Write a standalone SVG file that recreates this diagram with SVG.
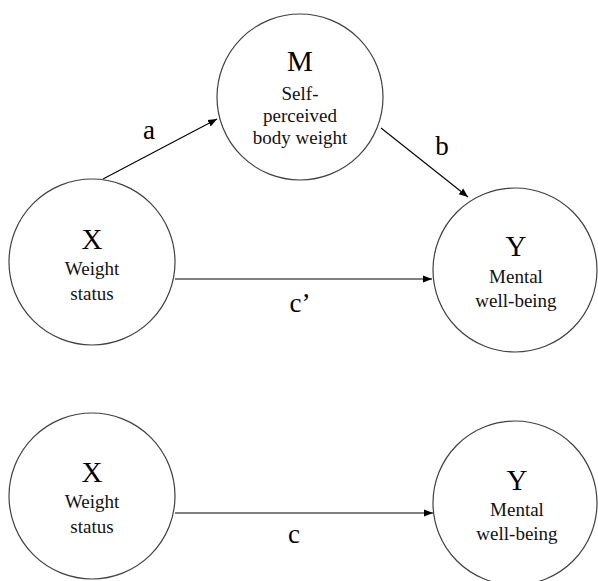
<svg xmlns="http://www.w3.org/2000/svg" width="598" height="581" viewBox="0 0 598 581">
<style>
.node{fill:#fff;stroke:#404040;stroke-width:1.2}
text{font-family:'Liberation Serif','DejaVu Serif',serif;text-anchor:middle;fill:#000}
.big{font-size:29px}
.sub{font-size:19px;fill:#111}
.lab{font-size:27px}
.edge{stroke:#000;stroke-width:1.1;fill:none;marker-end:url(#ah)}
</style>
<defs>
<marker id="ah" viewBox="0 0 10 10" refX="10" refY="5" markerWidth="9" markerHeight="9" markerUnits="userSpaceOnUse" orient="auto">
<path d="M0,1 L10,5 L0,9 z" fill="#000"/>
</marker>
</defs>
<rect width="598" height="581" fill="#fff"/>
<g id="connectors">
<line class="edge" x1="103" y1="179" x2="217" y2="119"/>
<line class="edge" x1="381" y1="128" x2="468" y2="197"/>
<line class="edge" x1="175" y1="279" x2="432" y2="279"/>
<line class="edge" x1="175" y1="513" x2="433" y2="513"/>
<text class="lab" x="149" y="139">a</text>
<text class="lab" x="442" y="155">b</text>
<text class="lab" x="300" y="312">c’</text>
<text class="lab" x="294" y="543">c</text>
</g>
<g id="nodeM">
<circle class="node" cx="300" cy="97" r="83"/>
<text class="big" x="300" y="71">M</text>
<text class="sub" x="300" y="100">Self-</text>
<text class="sub" x="300" y="122">perceived</text>
<text class="sub" x="300" y="144">body weight</text>
</g>
<g id="nodeX1">
<circle class="node" cx="92" cy="262" r="83"/>
<text class="big" x="92" y="249">X</text>
<text class="sub" x="92" y="275">Weight</text>
<text class="sub" x="92" y="300">status</text>
</g>
<g id="nodeY1">
<circle class="node" cx="515" cy="270" r="82"/>
<text class="big" x="516" y="256">Y</text>
<text class="sub" x="516" y="283">Mental</text>
<text class="sub" x="516" y="307">well-being</text>
</g>
<g id="nodeX2">
<circle class="node" cx="92" cy="496" r="83"/>
<text class="big" x="92" y="482">X</text>
<text class="sub" x="92" y="508">Weight</text>
<text class="sub" x="92" y="533">status</text>
</g>
<g id="nodeY2">
<circle class="node" cx="515" cy="503" r="82"/>
<text class="big" x="517" y="490">Y</text>
<text class="sub" x="517" y="516">Mental</text>
<text class="sub" x="517" y="540">well-being</text>
</g>
</svg>
